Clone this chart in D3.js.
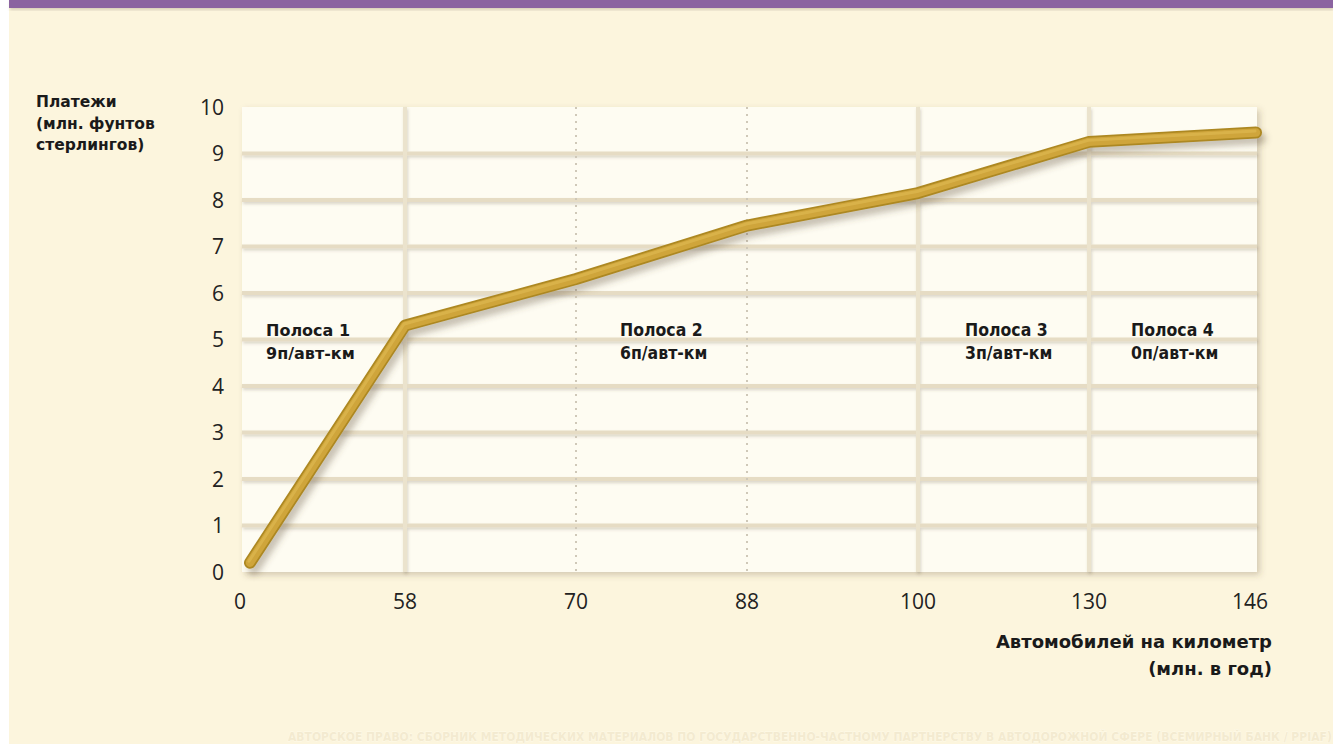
<!DOCTYPE html>
<html>
<head>
<meta charset="utf-8">
<script src="https://cdn.jsdelivr.net/npm/d3@7"></script>
<style>
  html, body { margin: 0; padding: 0; background: #ffffff; }
  svg { display: block; }
</style>
</head>
<body>
<svg id="chart" width="1333" height="744"></svg>
<script>
// Payments by traffic band (shadow-toll schedule)
const xLabels = ["0", "58", "70", "88", "100", "130", "146"];
const payments = [0.2, 5.3, 6.3, 7.45, 8.15, 9.25, 9.45];
const yTicks = [0, 1, 2, 3, 4, 5, 6, 7, 8, 9, 10];
const solidDividers = ["58", "100", "130"];
const dottedDividers = ["70", "88"];
const bandNames = ["Полоса 1", "Полоса 2", "Полоса 3", "Полоса 4"];
const bandRates = ["9п/авт-км", "6п/авт-км", "3п/авт-км", "0п/авт-км"];
const bandAnchors = ["0", "70", "100", "130"];
const yTitle = ["Платежи", "(млн. фунтов", "стерлингов)"];
const xTitle = ["Автомобилей на километр", "(млн. в год)"];
const credit = "АВТОРСКОЕ ПРАВО: СБОРНИК МЕТОДИЧЕСКИХ МАТЕРИАЛОВ ПО ГОСУДАРСТВЕННО-ЧАСТНОМУ ПАРТНЕРСТВУ В АВТОДОРОЖНОЙ СФЕРЕ (ВСЕМИРНЫЙ БАНК / PPIAF)";

const W = 1333, H = 744;
const plot = { left: 242, right: 1257, top: 107, bottom: 572 };
const boldFont = "'DejaVu Sans', Arial, sans-serif";
const narrowFont = "'DejaVu Sans Condensed', 'DejaVu Sans', sans-serif";

const svg = d3.select("#chart");
const defs = svg.append("defs");

function shadow(id, dx, dy, blur, opacity) {
  const f = defs.append("filter").attr("id", id)
    .attr("x", "-10%").attr("y", "-10%").attr("width", "130%").attr("height", "140%");
  f.append("feDropShadow").attr("dx", dx).attr("dy", dy)
    .attr("stdDeviation", blur).attr("flood-color", "#5a4a30").attr("flood-opacity", opacity);
}
shadow("panelShadow", 3, 3, 3, 0.25);
shadow("gridShadow", 1, 2, 1.5, 0.22);
shadow("lineShadow", 4, 6, 3, 0.33);

// page background
svg.append("rect").attr("x", 9).attr("y", 0).attr("width", W - 9).attr("height", H).attr("fill", "#fcf5dd");
// top band
svg.append("rect").attr("x", 9).attr("y", 0).attr("width", W - 9).attr("height", 8)
  .attr("fill", "#8b63a0").style("filter", "url(#gridShadow)");

// scales: evenly spaced traffic thresholds
const x = d3.scalePoint().domain(xLabels).range([234, 1260]);
const y = d3.scaleLinear().domain([0, 10]).range([plot.bottom, plot.top]);
const clampX = (v, lo, hi) => Math.max(lo, Math.min(hi, v));

// plot panel
svg.append("rect")
  .attr("x", plot.left).attr("y", plot.top)
  .attr("width", plot.right - plot.left).attr("height", plot.bottom - plot.top)
  .attr("fill", "#fefcf2").style("filter", "url(#panelShadow)");

// grid
const grid = svg.append("g").style("filter", "url(#gridShadow)");
grid.selectAll("line.h").data(yTicks.filter(d => d > 0 && d < 10)).join("line")
  .attr("class", "h")
  .attr("x1", plot.left).attr("x2", plot.right)
  .attr("y1", d => y(d)).attr("y2", d => y(d))
  .attr("stroke", "#e6dcc4").attr("stroke-width", 4);
grid.selectAll("line.v").data(solidDividers).join("line")
  .attr("class", "v")
  .attr("x1", d => x(d)).attr("x2", d => x(d))
  .attr("y1", plot.top).attr("y2", plot.bottom)
  .attr("stroke", "#ebe3cd").attr("stroke-width", 4);

svg.append("g").selectAll("line").data(dottedDividers).join("line")
  .attr("x1", d => x(d)).attr("x2", d => x(d))
  .attr("y1", plot.top).attr("y2", plot.bottom)
  .attr("stroke", "#cfc8b8").attr("stroke-width", 2)
  .attr("stroke-dasharray", "2,5");

// y axis
const yAxis = d3.axisLeft(y).tickValues(yTicks).tickSize(0).tickPadding(0);
const yg = svg.append("g").attr("transform", "translate(224,0)").call(yAxis);
yg.select(".domain").remove();
yg.selectAll("text")
  .attr("font-family", "'Open Sans', sans-serif").attr("font-size", 21)
  .attr("fill", "#222").attr("dy", "0.35em");

// x axis (end labels tucked inside the panel edges)
const xAxis = d3.axisBottom(x).tickSize(0).tickPadding(0);
const xg = svg.append("g").attr("transform", "translate(0,594)").call(xAxis);
xg.select(".domain").remove();
xg.selectAll(".tick").attr("transform", d => `translate(${clampX(x(d), 240, 1250)},0)`);
xg.selectAll("text")
  .attr("font-family", "'Open Sans', sans-serif").attr("font-size", 21)
  .attr("fill", "#222").attr("dy", "0.7em");

// payment line
const pts = xLabels.map((k, i) => [clampX(x(k), 250, 1256), y(payments[i])]);
const lineGen = d3.line();
const lg = svg.append("g").style("filter", "url(#lineShadow)");
lg.append("path").attr("d", lineGen(pts)).attr("fill", "none")
  .attr("stroke", "#ad8822").attr("stroke-width", 12)
  .attr("stroke-linecap", "round").attr("stroke-linejoin", "round");
lg.append("path").attr("d", lineGen(pts)).attr("fill", "none")
  .attr("stroke", "#cfa53b").attr("stroke-width", 8.5)
  .attr("stroke-linecap", "round").attr("stroke-linejoin", "round");
lg.append("path").attr("d", lineGen(pts)).attr("fill", "none")
  .attr("stroke", "#dfbb55").attr("stroke-width", 3).attr("stroke-opacity", 0.6)
  .attr("transform", "translate(-1,-1.5)")
  .attr("stroke-linecap", "round").attr("stroke-linejoin", "round");

// band labels
const bands = svg.append("g");
bandNames.forEach((name, i) => {
  const narrow = i > 0;
  const offsets = [32, 44, 47, 42];
  const bx = x(bandAnchors[i]) + offsets[i];
  const t = bands.append("text")
    .attr("x", bx).attr("y", 336)
    .attr("font-family", narrow ? narrowFont : boldFont)
    .attr("font-weight", "bold").attr("font-size", narrow ? 17.5 : 16).attr("fill", "#1a1a1a");
  t.append("tspan").attr("x", bx).text(name);
  t.append("tspan").attr("x", bx).attr("dy", 23).text(bandRates[i]);
});

// axis titles
const yt = svg.append("text").attr("font-family", boldFont)
  .attr("font-weight", "bold").attr("font-size", 15.5).attr("fill", "#1a1a1a");
yTitle.forEach((s, i) => yt.append("tspan").attr("x", 36).attr("y", 107 + i * 21.5).text(s));

const xt = svg.append("text").attr("font-family", boldFont)
  .attr("font-weight", "bold").attr("font-size", 18).attr("fill", "#1a1a1a")
  .attr("text-anchor", "end");
xTitle.forEach((s, i) => xt.append("tspan").attr("x", 1272).attr("y", 648 + i * 27).text(s));

// source credit
svg.append("text").attr("x", 288).attr("y", 741)
  .attr("font-family", narrowFont)
  .attr("font-weight", "bold").attr("font-size", 12)
  .attr("fill", "#f3ead0").attr("stroke", "#fffbea").attr("stroke-width", 0.8)
  .attr("paint-order", "stroke")
  .text(credit);
</script>
</body>
</html>
